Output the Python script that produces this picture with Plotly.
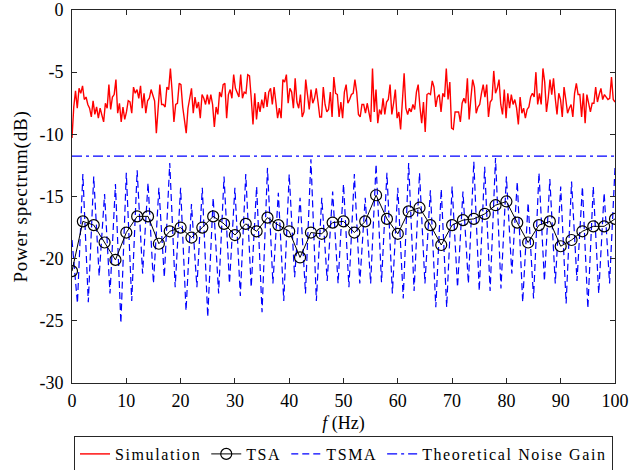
import numpy as np
import plotly.graph_objects as go

# ---------------- data ----------------
simulation_db = [
    -10.3, -7.8, -6.5, -7.9, -6.3, -6.7, -6.1, -7.2, -7.0, -7.6, -7.9, -8.6, -7.3, -8.4, -7.8, -8.7,
    -7.9, -8.4, -9.0, -7.5, -7.9, -6.0, -8.0, -7.0, -6.8, -5.6, -8.3, -7.5, -9.0, -7.8, -8.8, -8.2,
    -7.3, -7.4, -8.3, -6.2, -6.7, -6.4, -7.1, -6.1, -7.9, -6.7, -8.3, -7.3, -7.1, -6.4, -6.8, -7.3,
    -9.9, -7.9, -6.0, -7.6, -7.6, -7.8, -6.2, -6.4, -4.7, -6.6, -9.0, -7.6, -7.5, -5.9, -6.0, -7.8,
    -9.0, -9.9, -7.9, -7.1, -6.3, -8.3, -7.0, -7.9, -7.4, -8.7, -6.8, -7.1, -7.6, -6.8, -7.6, -6.8,
    -7.6, -9.4, -7.8, -8.4, -6.6, -7.0, -6.0, -5.9, -8.7, -6.8, -6.4, -7.1, -5.2, -6.3, -6.7, -7.0,
    -5.2, -7.1, -6.6, -6.7, -5.2,
    -5.3, -7.1, -9.2, -6.7, -8.8, -7.4, -8.2, -7.2, -7.9, -6.6, -7.8, -6.6, -6.3, -7.6, -6.2, -7.4,
    -8.7, -7.9, -8.7, -5.6, -5.8, -5.2, -7.5, -6.3, -6.6, -7.9, -5.5, -7.4, -7.9, -6.8, -8.6, -8.2,
    -5.6, -6.8, -8.0, -6.4, -7.5, -7.1, -6.3, -7.4, -8.6, -8.6, -6.2, -7.6, -8.2, -8.0, -6.6, -8.6,
    -5.4, -6.7, -6.8, -8.6, -7.4, -8.7, -6.6, -6.0, -7.5, -7.2, -6.8, -6.7, -5.6, -6.6, -8.4, -8.6,
    -7.6, -7.6, -8.3, -7.5, -8.4, -9.0, -4.7, -8.2, -6.4, -9.1, -8.0, -8.4, -7.1, -8.4, -7.4, -7.2,
    -6.0, -8.4, -7.5, -6.4, -8.7, -8.2, -9.6, -6.8, -5.1, -7.9, -8.4, -7.9, -8.2, -7.6, -8.0, -6.6,
    -6.0, -7.8, -9.1, -7.4, -9.8, -6.8,
    -6.7, -6.8, -5.7, -6.2, -7.8, -7.0, -6.8, -8.2, -6.7, -7.0, -4.7, -7.2, -5.8, -9.5, -9.6, -8.2,
    -8.2, -8.2, -9.0, -7.5, -7.1, -7.5, -5.5, -8.8, -7.1, -5.6, -6.2, -8.3, -7.8, -7.6, -6.7, -6.0,
    -7.0, -6.0, -8.6, -7.4, -7.2, -4.9, -6.7, -6.3, -5.6, -7.6, -8.4, -6.4, -8.7, -6.7, -7.9, -6.8,
    -7.6, -7.2, -7.9, -9.2, -7.0, -8.3, -7.9, -8.7, -8.0, -7.8, -7.0, -6.7, -7.0, -5.0, -7.6, -6.7,
    -7.6, -4.7, -5.8, -8.2, -7.1, -5.6, -6.8, -5.5, -7.1, -8.4, -6.7, -7.2, -8.6, -6.2, -7.2, -8.3,
    -7.9, -7.6, -8.6, -6.7, -5.9, -6.8, -6.8, -8.6, -6.7, -9.1, -6.8, -7.4, -8.2, -7.5, -7.5, -6.2,
    -7.4, -6.8, -6.3, -7.2, -6.8, -7.0, -7.2, -7.1, -5.4, -7.2, -7.4,
]

tsa_freq = list(range(0, 101, 2))
tsa_db = [
    -21.0, -17.0, -17.3, -18.7, -20.1, -17.9, -16.6, -16.6, -18.8, -17.8, -17.5, -18.3, -17.5,
    -16.6, -17.2, -18.1, -17.2, -17.8, -16.7, -17.3, -17.8, -19.9, -17.9, -18.0, -17.1, -17.0,
    -17.9, -17.0, -14.9, -16.8, -18.0, -16.2, -15.9, -17.3, -18.9, -17.3, -16.9, -16.8, -16.4,
    -15.7, -15.4, -17.1, -18.7, -17.3, -17.0, -19.0, -18.5, -17.8, -17.4, -17.4, -16.8,
]

tsma_freq = list(range(0, 101))
tsma_db = [
    -18.5, -23.6, -13.2, -23.5, -13.4, -21.4, -14.8, -22.8, -14.0, -25.2,
    -13.1, -23.4, -12.9, -21.2, -13.9, -22.0, -14.3, -21.5, -12.3, -22.3,
    -14.3, -24.2, -15.6, -22.3, -14.3, -24.7, -15.1, -22.8, -13.4, -22.0,
    -14.3, -23.0, -13.2, -22.3, -14.2, -24.3, -12.7, -22.0, -14.7, -23.4,
    -13.2, -21.5, -15.1, -22.8, -12.0, -23.4, -15.1, -21.8, -14.6, -22.0,
    -14.0, -22.3, -13.2, -22.0, -15.1, -22.0, -12.4, -21.9, -13.1, -22.8,
    -14.3, -23.2, -12.3, -22.6, -13.1, -22.0, -14.5, -23.9, -14.4, -23.9,
    -14.2, -22.3, -14.6, -22.0, -12.2, -22.6, -12.6, -22.6, -11.9, -22.4,
    -13.4, -21.2, -13.8, -23.5, -15.5, -23.2, -13.1, -21.8, -13.6, -22.0,
    -14.2, -23.6, -13.8, -21.8, -14.2, -24.0, -14.2, -22.8, -14.7, -22.0,
    -12.7,
]

noise_gain_db = -11.76
noise_freq = [0, 100]

x_ticks = list(range(0, 101, 10))
y_ticks = list(range(-30, 1, 5))
y_tick_text = [str(v) for v in y_ticks]

# ---------------- figure ----------------
FONT = "Liberation Serif, Times New Roman, serif"
SP = '<span style="letter-spacing:1.6px">{}</span>'
sim_freq = np.linspace(0, 100, len(simulation_db))

fig = go.Figure()
fig.add_trace(go.Scatter(
    x=sim_freq, y=simulation_db, mode="lines", name=SP.format("Simulation"),
    line=dict(color="#ff0000", width=1.4), legendrank=1))
fig.add_trace(go.Scatter(
    x=tsma_freq, y=tsma_db, mode="lines", name=SP.format("TSMA"),
    line=dict(color="#0000ff", width=1.2, dash="7px,4px"), legendrank=3))
fig.add_trace(go.Scatter(
    x=noise_freq, y=[noise_gain_db] * len(noise_freq), mode="lines",
    name=SP.format("Theoretical Noise Gain"),
    line=dict(color="#0000ff", width=1.2, dash="10px,4px,3px,4px"), legendrank=4))
fig.add_trace(go.Scatter(
    x=tsa_freq, y=tsa_db, mode="lines+markers", name=SP.format("TSA"),
    line=dict(color="#000000", width=1),
    marker=dict(symbol="circle-open", size=11, color="#000000", line=dict(width=1.2)),
    legendrank=2))

axis_common = dict(
    showgrid=False, zeroline=False, showline=True, linecolor="#262626", linewidth=1,
    mirror="ticks", ticks="inside", ticklen=5, tickcolor="#262626",
    tickfont=dict(family=FONT, size=18, color="#000000"),
    automargin=False, ticklabeloverflow="allow",
)

fig.update_xaxes(range=[0, 100], tickvals=x_ticks, ticklabelstandoff=1,
                 title=dict(text="<i>f</i> (Hz)", font=dict(family=FONT, size=18, color="#000"),
                            standoff=6),
                 **axis_common)
fig.update_yaxes(range=[-30, 0], tickvals=y_ticks, ticktext=y_tick_text, ticklabelstandoff=4,
                 title=dict(text='<span style="letter-spacing:0.8px">Power spectrum(dB)</span>',
                            font=dict(family=FONT, size=19, color="#000"),
                            standoff=6),
                 **axis_common)

fig.update_layout(
    width=631, height=470,
    margin=dict(l=72, r=16, t=10, b=87, autoexpand=False),
    paper_bgcolor="white", plot_bgcolor="white",
    font=dict(family=FONT, color="#000"),
    legend=dict(
        orientation="h", x=0.5, xanchor="center", xref="paper",
        y=(470 - 436) / 470, yanchor="top", yref="container",
        bordercolor="#262626", borderwidth=1, bgcolor="white",
        font=dict(family=FONT, size=16, color="#000"),
        itemwidth=30, traceorder="normal",
    ),
    showlegend=True,
)

fig.write_html("out.html")
